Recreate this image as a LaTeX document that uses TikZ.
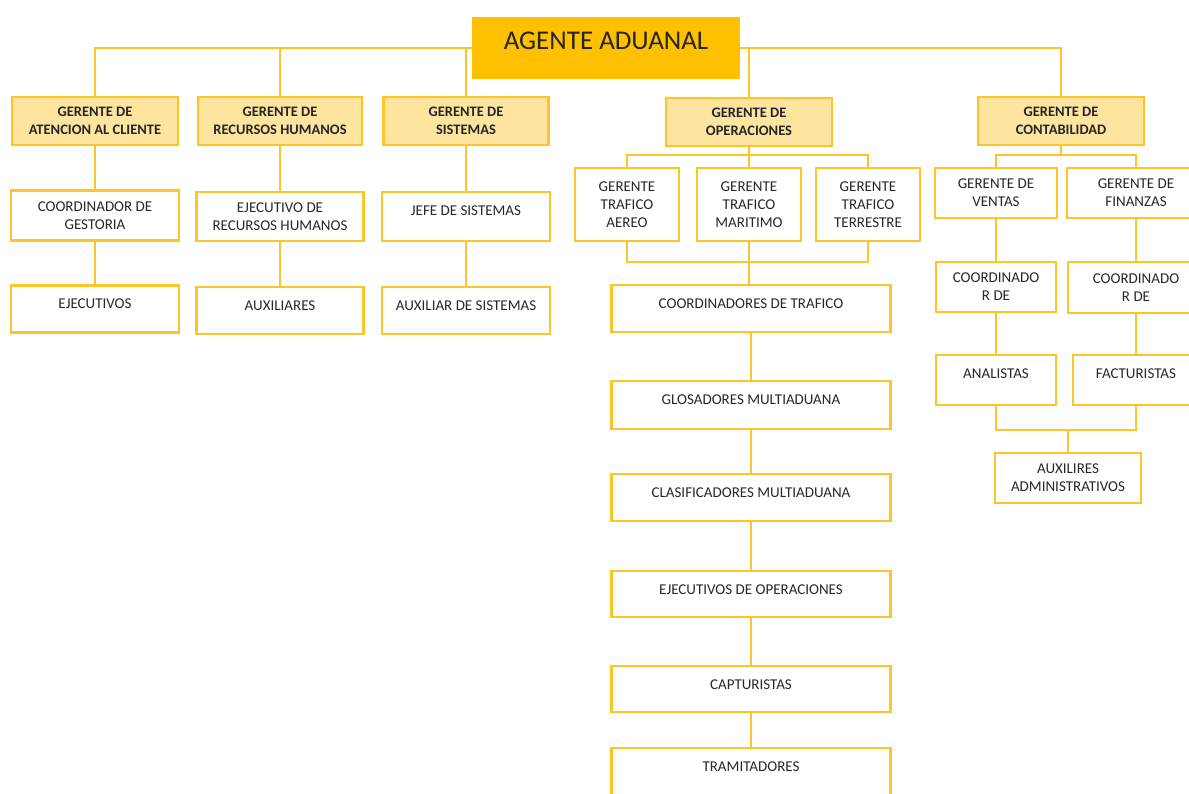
\documentclass[tikz,border=0pt]{standalone}
\usepackage{fontspec}
\setmainfont{Carlito}

\definecolor{linegold}{RGB}{255,196,37}
\definecolor{headfill}{RGB}{253,229,160}
\definecolor{topfill}{RGB}{255,192,0}
\definecolor{textgray}{RGB}{40,40,40}

\tikzset{
  box/.style={draw=linegold, line width=2.2pt, fill=white, align=center,
    inner sep=0pt, text=textgray, font=\fontsize{15}{18}\selectfont},
  headbox/.style={box, fill=headfill, text=black!85,
    font=\fontsize{14.5}{18}\selectfont\bfseries},
  topbox/.style={fill=topfill, draw=topfill, inner sep=0pt, text=black!85,
    font=\fontsize{27}{30}\selectfont},
  toprow/.style={text height=23pt, text depth=#1},
  link/.style={draw=linegold, line width=2pt},
}

\begin{document}
\begin{tikzpicture}[x=1pt,y=-1pt]
  \useasboundingbox (0,0) rectangle (1189,793);

  % director
  \node[topbox, minimum width=267pt, text height=32pt, text depth=29pt] (agente) at (606,47.5) {AGENTE ADUANAL};

  % gerencias
  \node[headbox, minimum width=166pt, minimum height=48pt] (gAtn) at (95,121) {GERENTE DE\\ATENCION AL CLIENTE};
  \node[headbox, minimum width=164pt, minimum height=48pt] (gRH) at (280,121) {GERENTE DE\\RECURSOS HUMANOS};
  \node[headbox, minimum width=165pt, minimum height=48pt] (gSis) at (466,121) {GERENTE DE\\SISTEMAS};
  \node[headbox, minimum width=166pt, minimum height=48pt] (gOp) at (749,122) {GERENTE DE\\OPERACIONES};
  \node[headbox, minimum width=166pt, minimum height=48pt] (gCon) at (1061,121) {GERENTE DE\\CONTABILIDAD};

  % atencion, recursos humanos, sistemas
  \node[box, minimum width=168pt, minimum height=50pt] (coGes) at (95,215.5) {COORDINADOR DE\\GESTORIA};
  \node[box, minimum width=168pt, toprow=24pt] (ejecs) at (95,309) {EJECUTIVOS};
  \node[box, minimum width=167pt, minimum height=49pt] (ejRH) at (280,216.5) {EJECUTIVO DE\\RECURSOS HUMANOS};
  \node[box, minimum width=167pt, toprow=24pt] (auxs) at (280,310.5) {AUXILIARES};
  \node[box, minimum width=168pt, toprow=26pt] (jefeSis) at (466,216.5) {JEFE DE SISTEMAS};
  \node[box, minimum width=168pt, toprow=24pt] (auxSis) at (466,310.5) {AUXILIAR DE SISTEMAS};

  % operaciones
  \node[box, minimum width=104pt, minimum height=73pt] (tAereo) at (627,204.5) {GERENTE\\TRAFICO\\AEREO};
  \node[box, minimum width=104pt, minimum height=73pt] (tMar) at (749,204.5) {GERENTE\\TRAFICO\\MARITIMO};
  \node[box, minimum width=104pt, minimum height=73pt] (tTer) at (868,204.5) {GERENTE\\TRAFICO\\TERRESTRE};

  \node[box, minimum width=279pt, toprow=24pt] (coTraf) at (751,308.5) {COORDINADORES DE TRAFICO};
  \node[box, minimum width=279pt, toprow=25pt] (glos) at (751,405) {GLOSADORES MULTIADUANA};
  \node[box, minimum width=279pt, toprow=24pt] (clas) at (751,497.5) {CLASIFICADORES MULTIADUANA};
  \node[box, minimum width=279pt, toprow=23pt] (ejOp) at (751,594) {EJECUTIVOS DE OPERACIONES};
  \node[box, minimum width=279pt, toprow=23pt] (capt) at (751,689) {CAPTURISTAS};
  \node[box, minimum width=279pt, toprow=31pt] (tram) at (751,775) {TRAMITADORES};

  % contabilidad
  \node[box, minimum width=122pt, minimum height=50pt] (gVen) at (996,193) {GERENTE DE\\VENTAS};
  \node[box, minimum width=138pt, minimum height=50pt] (gFin) at (1136,193) {GERENTE DE\\FINANZAS};
  \node[box, minimum width=120pt, minimum height=50pt] (coVen) at (996,287) {COORDINADO\\R DE};
  \node[box, minimum width=136pt, minimum height=51pt] (coFin) at (1136,287.5) {COORDINADO\\R DE};
  \node[box, minimum width=120pt, toprow=27pt] (anal) at (996,380) {ANALISTAS};
  \node[box, minimum width=126pt, toprow=27pt] (fact) at (1136,380) {FACTURISTAS};
  \node[box, minimum width=146pt, minimum height=50pt] (auxAdm) at (1068,478) {AUXILIRES\\ADMINISTRATIVOS};

  % lineas
  \draw[link] (agente.west) -| (gAtn.north);
  \draw[link] (agente.west) -| (gRH.north);
  \draw[link] (agente.west) -| (gSis.north);
  \draw[link] (agente.east) -| (gOp.north);
  \draw[link] (agente.east) -| (gCon.north);

  \draw[link] (gAtn) -- (coGes) -- (ejecs);
  \draw[link] (gRH) -- (ejRH) -- (auxs);
  \draw[link] (gSis) -- (jefeSis) -- (auxSis);

  \coordinate (opTop) at (749,155);
  \coordinate (opBot) at (749,262);
  \draw[link] (gOp) -- (tMar);
  \draw[link] (tAereo.north) |- (opTop) -| (tTer.north);
  \draw[link] (tAereo.south) |- (opBot) -| (tTer.south);
  \draw[link] (tMar) -- (opBot);
  \draw[link] (opBot) -- (opBot |- coTraf.north);
  \draw[link] (coTraf) -- (glos) -- (clas) -- (ejOp) -- (capt) -- (tram);

  \coordinate (conTop) at (1061,155);
  \coordinate (conBot) at (1068,430);
  \draw[link] (gCon) -- (conTop);
  \draw[link] (gVen.north) |- (conTop) -| (gFin.north);
  \draw[link] (gVen) -- (coVen) -- (anal);
  \draw[link] (gFin) -- (coFin) -- (fact);
  \draw[link] (anal.south) |- (conBot) -| (fact.south);
  \draw[link] (conBot) -- (auxAdm);
\end{tikzpicture}
\end{document}
